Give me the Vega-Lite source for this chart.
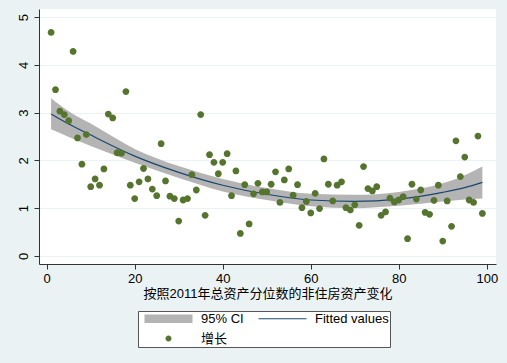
{
  "$schema": "https://vega.github.io/schema/vega-lite/v6.json",
  "width": 457,
  "height": 255,
  "autosize": "none",
  "padding": {"left": 39, "top": 9, "right": 11, "bottom": 99},
  "background": "#eaf2f3",
  "config": {
    "view": {"fill": "white", "stroke": null},
    "font": "Liberation Sans, Noto Sans CJK SC",
    "axis": {
      "labelFontSize": 13,
      "labelColor": "#000000",
      "titleFontSize": 13,
      "titleFontWeight": "normal",
      "titleColor": "#000000",
      "domainColor": "#333333",
      "tickColor": "#333333",
      "tickSize": 5,
      "gridColor": "#eaf2f3",
      "gridWidth": 1.2
    },
    "legend": {
      "labelFontSize": 13,
      "labelColor": "#000000"
    }
  },
  "datasets": {
    "pts": [
      {"x":1,"y":4.68},{"x":2,"y":3.48},{"x":3,"y":3.03},{"x":4,"y":2.96},{"x":5,"y":2.83},
      {"x":6,"y":4.28},{"x":7,"y":2.47},{"x":8,"y":1.92},{"x":9,"y":2.54},{"x":10,"y":1.45},
      {"x":11,"y":1.61},{"x":12,"y":1.48},{"x":13,"y":1.82},{"x":14,"y":2.97},{"x":15,"y":2.89},
      {"x":16,"y":2.16},{"x":17,"y":2.15},{"x":18,"y":3.44},{"x":19,"y":1.48},{"x":20,"y":1.20},
      {"x":21,"y":1.55},{"x":22,"y":1.83},{"x":23,"y":1.61},{"x":24,"y":1.40},{"x":25,"y":1.26},
      {"x":26,"y":2.35},{"x":27,"y":1.57},{"x":28,"y":1.25},{"x":29,"y":1.20},{"x":30,"y":0.73},
      {"x":31,"y":1.17},{"x":32,"y":1.20},{"x":33,"y":1.70},{"x":34,"y":1.38},{"x":35,"y":2.96},
      {"x":36,"y":0.85},{"x":37,"y":2.12},{"x":38,"y":1.96},{"x":39,"y":1.72},{"x":40,"y":1.96},
      {"x":41,"y":2.14},{"x":42,"y":1.26},{"x":43,"y":1.78},{"x":44,"y":0.47},{"x":45,"y":1.49},
      {"x":46,"y":0.67},{"x":47,"y":1.30},{"x":48,"y":1.52},{"x":49,"y":1.34},{"x":50,"y":1.34},
      {"x":51,"y":1.50},{"x":52,"y":1.76},{"x":53,"y":1.12},{"x":54,"y":1.59},{"x":55,"y":1.82},
      {"x":56,"y":1.27},{"x":57,"y":1.49},{"x":58,"y":1.01},{"x":59,"y":1.14},{"x":60,"y":0.90},
      {"x":61,"y":1.31},{"x":62,"y":0.99},{"x":63,"y":2.03},{"x":64,"y":1.50},{"x":65,"y":1.15},
      {"x":66,"y":1.48},{"x":67,"y":1.55},{"x":68,"y":1.01},{"x":69,"y":0.96},{"x":70,"y":1.07},
      {"x":71,"y":0.64},{"x":72,"y":1.87},{"x":73,"y":1.41},{"x":74,"y":1.36},{"x":75,"y":1.45},
      {"x":76,"y":0.85},{"x":77,"y":0.92},{"x":78,"y":1.21},{"x":79,"y":1.13},{"x":80,"y":1.17},
      {"x":81,"y":1.24},{"x":82,"y":0.36},{"x":83,"y":1.50},{"x":84,"y":1.19},{"x":85,"y":1.38},
      {"x":86,"y":0.91},{"x":87,"y":0.87},{"x":88,"y":1.16},{"x":89,"y":1.48},{"x":90,"y":0.31},
      {"x":91,"y":1.15},{"x":92,"y":0.62},{"x":93,"y":2.41},{"x":94,"y":1.66},{"x":95,"y":2.07},
      {"x":96,"y":1.17},{"x":97,"y":1.12},{"x":98,"y":2.51},{"x":99,"y":0.89}
    ],
    "fit": [
      {"x":1,"fit":2.97,"lo":2.65,"hi":3.30},
      {"x":5,"fit":2.76,"lo":2.49,"hi":3.03},
      {"x":10,"fit":2.53,"lo":2.30,"hi":2.77},
      {"x":20,"fit":2.09,"lo":1.95,"hi":2.24},
      {"x":30,"fit":1.75,"lo":1.63,"hi":1.88},
      {"x":40,"fit":1.48,"lo":1.35,"hi":1.61},
      {"x":50,"fit":1.29,"lo":1.17,"hi":1.42},
      {"x":60,"fit":1.17,"lo":1.04,"hi":1.30},
      {"x":70,"fit":1.14,"lo":1.00,"hi":1.28},
      {"x":80,"fit":1.19,"lo":1.05,"hi":1.34},
      {"x":90,"fit":1.33,"lo":1.14,"hi":1.52},
      {"x":95,"fit":1.43,"lo":1.18,"hi":1.69},
      {"x":99,"fit":1.54,"lo":1.20,"hi":1.87}
    ]
  },
  "layer": [
    {
      "data": {"name": "fit"},
      "mark": {"type": "area", "interpolate": "monotone", "opacity": 1},
      "encoding": {
        "x": {
          "field": "x", "type": "quantitative",
          "scale": {"domain": [-1.75, 102.1], "nice": false, "zero": false},
          "axis": {
            "values": [0, 20, 40, 60, 80, 100],
            "grid": false,
            "labelPadding": 3,
            "title": "按照2011年总资产分位数的非住房资产变化",
            "titlePadding": 2
          }
        },
        "y": {
          "field": "lo", "type": "quantitative",
          "scale": {"domain": [-0.17, 5.17], "nice": false, "zero": false},
          "axis": {
            "values": [0, 1, 2, 3, 4, 5],
            "grid": true,
            "title": null,
            "labelAngle": -90,
            "labelAlign": "center",
            "labelBaseline": "bottom",
            "labelPadding": 4
          }
        },
        "y2": {"field": "hi"},
        "color": {
          "datum": "95% CI", "type": "nominal",
          "scale": {"domain": ["95% CI", "Fitted values", "增长"], "range": ["#b4b4b4", "#1a476f", "#55752f"]},
          "legend": {
            "title": null,
            "orient": "none",
            "legendX": 99,
            "legendY": 302,
            "direction": "horizontal",
            "columns": 2,
            "symbolSize": 100,
            "symbolOffset": 23,
            "labelOffset": 26,
            "columnPadding": 9,
            "rowPadding": 6,
            "padding": 1,
            "strokeColor": "#555555",
            "fillColor": "#ffffff",
            "symbolStrokeWidth": 0,
            "symbolOpacity": 1
          }
        }
      }
    },
    {
      "data": {"name": "fit"},
      "mark": {"type": "line", "interpolate": "monotone", "strokeWidth": 1.2},
      "encoding": {
        "x": {"field": "x", "type": "quantitative"},
        "y": {"field": "fit", "type": "quantitative"},
        "color": {"datum": "Fitted values", "type": "nominal"}
      }
    },
    {
      "data": {"name": "pts"},
      "mark": {"type": "point", "filled": true, "opacity": 1, "size": 128},
      "encoding": {
        "x": {"field": "x", "type": "quantitative"},
        "y": {"field": "y", "type": "quantitative"},
        "color": {"datum": "增长", "type": "nominal"},
        "shape": {
          "datum": "增长", "type": "nominal",
          "scale": {
            "domain": ["95% CI", "Fitted values", "增长"],
            "range": [
              "M-4.8,-0.86H4.8V0.86H-4.8Z",
              "M-4.8,-0.12H4.8V0.12H-4.8Z",
              "M-0.6,0A0.6,0.6,0,1,0,0.6,0A0.6,0.6,0,1,0,-0.6,0Z"
            ]
          },
          "legend": {"title": null}
        }
      }
    }
  ]
}
